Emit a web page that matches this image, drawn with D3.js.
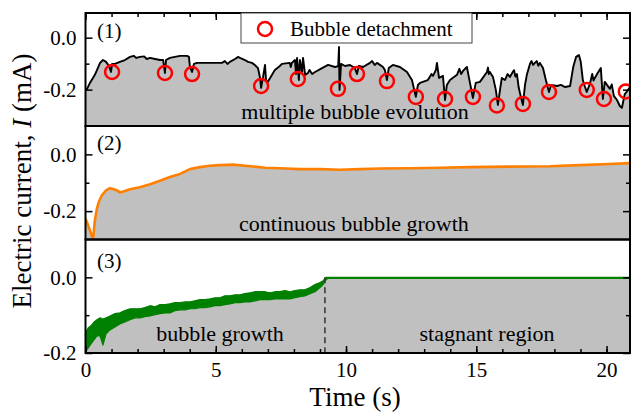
<!DOCTYPE html>
<html><head><meta charset="utf-8">
<script src="https://cdn.jsdelivr.net/npm/d3@7"></script>
<style>
body{margin:0;background:#fff}
svg{display:block}
text{font-family:"Liberation Serif","Times New Roman",Times,serif;fill:#000}
</style>
</head><body>
<svg id="chart" width="632" height="412"></svg>
<script>
// ---------- DATA ----------
// Panel (1): multiple bubble evolution, time (s) / current (mA)
const p1_time = [0,0.06,0.17,0.36,0.56,0.67,0.79,0.90,0.98,1.02,1.13,1.32,1.51,1.71,1.85,1.95,2.09,2.25,2.35,2.48,2.67,2.86,2.98,3.05,3.09,3.24,3.43,3.63,3.90,3.97,4.01,4.09,4.16,4.28,4.59,4.97,5.24,5.35,5.45,5.54,5.74,5.85,5.93,6.12,6.24,6.39,6.50,6.62,6.70,6.74,6.81,6.89,6.93,7.00,7.16,7.27,7.46,7.54,7.84,7.88,7.92,8.04,8.08,8.12,8.19,8.23,8.31,8.35,8.43,8.54,8.60,8.70,8.81,9.08,9.31,9.58,9.70,9.73,9.75,9.81,9.96,10.15,10.34,10.42,10.49,10.65,10.92,11.00,11.10,11.19,11.42,11.49,11.57,11.64,11.80,12.07,12.34,12.53,12.68,12.76,12.84,13.14,13.22,13.28,13.34,13.45,13.49,13.57,13.72,13.80,13.87,13.99,14.26,14.35,14.42,14.49,14.64,14.72,14.87,14.98,15.14,15.41,15.45,15.48,15.52,15.64,15.75,15.83,15.91,15.98,16.10,16.20,16.29,16.40,16.45,16.50,16.56,16.63,16.71,16.79,16.87,16.94,17.06,17.12,17.18,17.25,17.32,17.38,17.44,17.56,17.67,17.79,17.87,18.10,18.25,18.41,18.60,18.72,18.83,18.94,19.01,19.09,19.16,19.24,19.36,19.45,19.50,19.55,19.66,19.78,19.86,19.93,20.13,20.20,20.28,20.40,20.51,20.59,20.70,20.77,20.90];
const p1_current = [-0.201,-0.197,-0.174,-0.143,-0.097,-0.086,-0.093,-0.109,-0.132,-0.101,-0.101,-0.093,-0.086,-0.074,-0.070,-0.078,-0.074,-0.072,-0.082,-0.078,-0.082,-0.086,-0.086,-0.136,-0.086,-0.078,-0.074,-0.070,-0.070,-0.074,-0.113,-0.132,-0.101,-0.097,-0.097,-0.097,-0.097,-0.090,-0.101,-0.093,-0.082,-0.074,-0.078,-0.086,-0.093,-0.097,-0.105,-0.117,-0.155,-0.193,-0.155,-0.105,-0.163,-0.170,-0.143,-0.124,-0.109,-0.101,-0.097,-0.113,-0.097,-0.086,-0.140,-0.078,-0.163,-0.086,-0.132,-0.078,-0.143,-0.136,-0.124,-0.140,-0.132,-0.117,-0.105,-0.113,-0.109,-0.036,-0.201,-0.101,-0.109,-0.105,-0.117,-0.140,-0.109,-0.113,-0.097,-0.090,-0.105,-0.097,-0.113,-0.124,-0.163,-0.117,-0.105,-0.113,-0.132,-0.163,-0.228,-0.182,-0.174,-0.163,-0.150,-0.140,-0.147,-0.124,-0.097,-0.155,-0.147,-0.240,-0.182,-0.163,-0.143,-0.120,-0.140,-0.128,-0.113,-0.155,-0.232,-0.174,-0.170,-0.132,-0.115,-0.140,-0.132,-0.151,-0.201,-0.259,-0.201,-0.155,-0.163,-0.140,-0.151,-0.132,-0.125,-0.150,-0.140,-0.193,-0.228,-0.259,-0.182,-0.143,-0.101,-0.090,-0.105,-0.097,-0.090,-0.108,-0.097,-0.117,-0.163,-0.209,-0.182,-0.186,-0.182,-0.190,-0.186,-0.113,-0.074,-0.067,-0.093,-0.163,-0.186,-0.209,-0.178,-0.140,-0.165,-0.155,-0.136,-0.117,-0.236,-0.170,-0.197,-0.180,-0.224,-0.240,-0.263,-0.270,-0.217,-0.209,-0.190];
// Bubble detachment markers
const bubble_time    = [1.02,3.05,4.09,6.74,8.15,9.69,10.42,11.57,12.68,13.80,14.87,15.79,16.79,17.79,19.24,19.90,20.74];
const bubble_current = [-0.132,-0.136,-0.140,-0.186,-0.159,-0.197,-0.140,-0.167,-0.228,-0.236,-0.228,-0.261,-0.255,-0.209,-0.201,-0.236,-0.207];
// Panel (2): continuous bubble growth
const p2_time = [0,0.10,0.17,0.25,0.29,0.33,0.36,0.44,0.52,0.63,0.79,0.94,1.09,1.21,1.32,1.48,1.71,2.09,2.48,2.86,3.24,3.63,4.01,4.39,4.78,5.16,5.66,6.12,6.43,6.89,7.46,8.23,9.00,9.76,10.53,11.30,12.45,13.60,14.76,16.29,17.83,18.97,20.12,20.90];
const p2_current = [-0.226,-0.250,-0.268,-0.289,-0.300,-0.261,-0.233,-0.190,-0.165,-0.144,-0.127,-0.119,-0.123,-0.127,-0.134,-0.130,-0.123,-0.116,-0.105,-0.093,-0.080,-0.069,-0.052,-0.045,-0.040,-0.038,-0.036,-0.040,-0.043,-0.047,-0.049,-0.052,-0.052,-0.054,-0.052,-0.050,-0.049,-0.047,-0.045,-0.043,-0.042,-0.038,-0.034,-0.031];
// Panel (3): bubble growth then stagnant region (noisy band: upper / lower envelope)
const p3_time  = [0,0.10,0.21,0.33,0.44,0.56,0.67,0.79,0.94,1.13,1.32,1.51,1.71,1.90,2.09,2.28,2.48,2.67,2.86,3.05,3.24,3.43,3.63,3.82,4.01,4.20,4.39,4.59,4.78,4.97,5.16,5.35,5.54,5.74,5.93,6.12,6.31,6.50,6.70,6.89,7.08,7.27,7.46,7.66,7.85,8.04,8.23,8.42,8.62,8.81,9.00,9.12,9.23,9.31,20.90];
const p3_upper = [-0.147,-0.134,-0.128,-0.118,-0.112,-0.107,-0.110,-0.107,-0.102,-0.096,-0.094,-0.088,-0.083,-0.083,-0.083,-0.080,-0.075,-0.078,-0.072,-0.072,-0.070,-0.067,-0.067,-0.065,-0.065,-0.062,-0.059,-0.059,-0.057,-0.054,-0.054,-0.049,-0.049,-0.046,-0.046,-0.043,-0.041,-0.038,-0.038,-0.038,-0.041,-0.038,-0.038,-0.035,-0.038,-0.035,-0.033,-0.033,-0.027,-0.019,-0.014,-0.009,0.000,0.000,0.000];
const p3_lower = [-0.197,-0.187,-0.176,-0.165,-0.155,-0.155,-0.179,-0.149,-0.139,-0.131,-0.123,-0.118,-0.112,-0.107,-0.107,-0.104,-0.102,-0.099,-0.096,-0.094,-0.094,-0.088,-0.086,-0.086,-0.083,-0.083,-0.080,-0.080,-0.078,-0.075,-0.075,-0.072,-0.070,-0.067,-0.067,-0.065,-0.065,-0.062,-0.059,-0.059,-0.059,-0.057,-0.057,-0.057,-0.057,-0.054,-0.051,-0.049,-0.043,-0.038,-0.027,-0.019,-0.006,-0.003,-0.003];
const stagnant_start = 9.19;
// Tick values / labels
const x_major = [0,5,10,15,20];
const x_minor = d3.range(0,21,1);
const y_major = [0,-0.2];
const y_minor = [-0.1];
const panel_labels = ["(1)","(2)","(3)"];
const notes = ["multiple bubble evolution","continuous bubble growth","bubble growth","stagnant region"];
const legend_label = "Bubble detachment";

// ---------- DRAWING ----------
const svg = d3.select("#chart");
const L = 85.5, R = 630;
const x = d3.scaleLinear().domain([0,20.9]).range([L,R]);
const panels = [
  {top:13,    bottom:126,   domain:[-0.34,0.095]},
  {top:126,   bottom:239.5, domain:[-0.3,0.1]},
  {top:239.5, bottom:353,   domain:[-0.2,0.1]}
];
panels.forEach((p,i)=>{
  p.y = d3.scaleLinear().domain(p.domain).range([p.bottom,p.top]);
  svg.append("clipPath").attr("id","clip"+i).append("rect")
    .attr("x",L).attr("y",p.top).attr("width",R-L).attr("height",p.bottom-p.top);
  p.g = svg.append("g").attr("clip-path",`url(#clip${i})`);
});
const GRAY = "#c0c0c0";

// Panel 1
{
  const p = panels[0];
  const d = p1_time.map((t,i)=>[t,p1_current[i]]);
  p.g.append("path").datum(d).attr("fill",GRAY)
    .attr("d",d3.area().x(a=>x(a[0])).y0(p.bottom).y1(a=>p.y(a[1])));
  p.g.append("path").datum(d).attr("fill","none").attr("stroke","#000")
    .attr("stroke-width",1.9).attr("stroke-linejoin","round")
    .attr("d",d3.line().x(a=>x(a[0])).y(a=>p.y(a[1])));
}
// Panel 2
{
  const p = panels[1];
  const d = p2_time.map((t,i)=>[t,p2_current[i]]);
  p.g.append("path").datum(d).attr("fill",GRAY)
    .attr("d",d3.area().x(a=>x(a[0])).y0(p.bottom).y1(a=>p.y(a[1])));
  p.g.append("path").datum(d).attr("fill","none").attr("stroke","#ff8000")
    .attr("stroke-width",2.6).attr("stroke-linejoin","round")
    .attr("d",d3.line().x(a=>x(a[0])).y(a=>p.y(a[1])));
}
// Panel 3
{
  const p = panels[2];
  const d = p3_time.map((t,i)=>[t,p3_upper[i],p3_lower[i]]);
  p.g.append("path").datum(d).attr("fill",GRAY)
    .attr("d",d3.area().x(a=>x(a[0])).y0(p.bottom).y1(a=>p.y(a[1])));
  p.g.append("path").datum(d).attr("fill","#008000").attr("stroke","#008000")
    .attr("stroke-width",1.2).attr("stroke-linejoin","round")
    .attr("d",d3.area().x(a=>x(a[0])).y0(a=>p.y(a[2])).y1(a=>p.y(a[1])));
  svg.append("line").attr("x1",x(stagnant_start)).attr("x2",x(stagnant_start))
    .attr("y1",p.y(0)).attr("y2",p.bottom)
    .attr("stroke","#333").attr("stroke-width",1.5).attr("stroke-dasharray","6,4");
}

// Annotations
const fs = {tick:21, note:22, title:27};
svg.append("text").attr("x",355).attr("y",119).attr("text-anchor","middle").style("font-size",fs.note+"px").text(notes[0]);
svg.append("text").attr("x",354).attr("y",231).attr("text-anchor","middle").style("font-size",fs.note+"px").text(notes[1]);
svg.append("text").attr("x",220).attr("y",341).attr("text-anchor","middle").style("font-size",fs.note+"px").text(notes[2]);
svg.append("text").attr("x",487).attr("y",341).attr("text-anchor","middle").style("font-size",fs.note+"px").text(notes[3]);

// Bubble markers
svg.append("g").attr("clip-path","url(#clip0)").selectAll("circle")
  .data(bubble_time.map((t,i)=>[t,bubble_current[i]])).join("circle")
  .attr("cx",a=>x(a[0])).attr("cy",a=>panels[0].y(a[1])).attr("r",7)
  .attr("fill","none").attr("stroke","#ff0000").attr("stroke-width",2.5);

// Axes
function styleAxis(g){
  g.select(".domain").remove();
  g.selectAll(".tick line").attr("stroke","#000").attr("stroke-width",1.5);
  g.selectAll(".tick text").style("font-size",fs.tick+"px").attr("fill","#000");
}
panels.forEach((p,i)=>{
  svg.append("g").attr("transform",`translate(${L},0)`)
    .call(d3.axisLeft(p.y).tickValues(y_major).tickSize(-7).tickPadding(9).tickFormat(d=>d.toFixed(1))).call(styleAxis);
  svg.append("g").attr("transform",`translate(${L},0)`)
    .call(d3.axisLeft(p.y).tickValues(y_minor).tickSize(-4).tickFormat("")).call(styleAxis);
  svg.append("g").attr("transform",`translate(${R},0)`)
    .call(d3.axisRight(p.y).tickValues(y_major).tickSize(-7).tickFormat("")).call(styleAxis);
  svg.append("g").attr("transform",`translate(${R},0)`)
    .call(d3.axisRight(p.y).tickValues(y_minor).tickSize(-4).tickFormat("")).call(styleAxis);
  svg.append("text").attr("x",97).attr("y",[38,150,268][i]).style("font-size","21px").text(panel_labels[i]);
});
// top ticks (panel 1)
svg.append("g").attr("transform",`translate(0,${panels[0].top})`)
  .call(d3.axisTop(x).tickValues(x_major).tickSize(-7).tickFormat("")).call(styleAxis);
svg.append("g").attr("transform",`translate(0,${panels[0].top})`)
  .call(d3.axisTop(x).tickValues(x_minor).tickSize(-4).tickFormat("")).call(styleAxis);
// bottom ticks (panel 3)
svg.append("g").attr("transform",`translate(0,${panels[2].bottom})`)
  .call(d3.axisBottom(x).tickValues(x_major).tickSize(-7).tickPadding(9)).call(styleAxis);
svg.append("g").attr("transform",`translate(0,${panels[2].bottom})`)
  .call(d3.axisBottom(x).tickValues(x_minor).tickSize(-4).tickFormat("")).call(styleAxis);

// Panel frames
panels.forEach(p=>{
  svg.append("rect").attr("x",L).attr("y",p.top).attr("width",R-L).attr("height",p.bottom-p.top)
    .attr("fill","none").attr("stroke","#000").attr("stroke-width",2);
});

// Legend
svg.append("rect").attr("x",241).attr("y",13).attr("width",231).attr("height",30)
  .attr("fill","#fff").attr("stroke","#444").attr("stroke-width",1);
svg.append("circle").attr("cx",265).attr("cy",29).attr("r",7)
  .attr("fill","none").attr("stroke","#ff0000").attr("stroke-width",2.5);
svg.append("text").attr("x",290).attr("y",36).style("font-size","21px").text(legend_label);

// Axis titles
svg.append("text").attr("x",355).attr("y",406).attr("text-anchor","middle").style("font-size",fs.title+"px").text("Time (s)");
const yt = svg.append("text").attr("transform","translate(31,181) rotate(-90)").attr("text-anchor","middle").style("font-size",fs.title+"px");
yt.append("tspan").text("Electric current, ");
yt.append("tspan").style("font-style","italic").text("I");
yt.append("tspan").text(" (mA)");
</script>
</body></html>
